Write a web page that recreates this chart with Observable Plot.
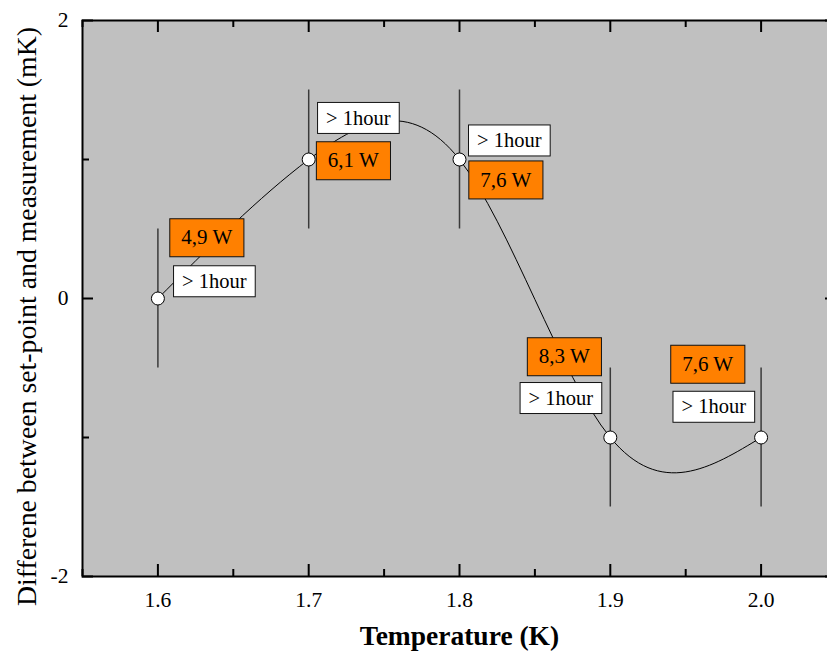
<!DOCTYPE html>
<html>
<head>
<meta charset="utf-8">
<script src="https://cdn.jsdelivr.net/npm/d3@7"></script>
<script src="https://cdn.jsdelivr.net/npm/@observablehq/plot@0.6"></script>
<style>
  html, body { margin: 0; padding: 0; background: white; overflow: hidden; }
</style>
</head>
<body>
<script>
// Measured temperature points, set-point deviation and error half-width
const temperatures = [1.6, 1.7, 1.8, 1.9, 2.0];
const deviations = [0, 1, 1, -1, -1];
const errors = [0.5, 0.5, 0.5, 0.5, 0.5];

// Heater power annotations (text and anchor in data units)
const powerTexts = ["4,9 W", "6,1 W", "7,6 W", "8,3 W", "7,6 W"];
const powerAtT = [1.6324, 1.7296, 1.8307, 1.8695, 1.9646];
const powerAtY = [0.437, 0.991, 0.853, -0.419, -0.473];

// Settling time annotations
const timeTexts = ["> 1hour", "> 1hour", "> 1hour", "> 1hour", "> 1hour"];
const timeAtT = [1.6374, 1.7329, 1.8330, 1.8672, 1.9686];
const timeAtY = [0.124, 1.299, 1.137, -0.716, -0.779];

// Axis ticks
const xMajor = [1.6, 1.7, 1.8, 1.9, 2.0];
const xMinor = [1.55, 1.65, 1.75, 1.85, 1.95, 2.05];
const yMajor = [-2, 0, 2];
const yMinor = [-1, 1];

const xLabel = "Temperature (K)";
const yLabel = "Differene between set-point and measurement (mK)";

const points = temperatures.map((t, i) => ({t, d: deviations[i], e: errors[i]}));
const powerLabels = powerTexts.map((s, i) => ({s, t: powerAtT[i], d: powerAtY[i]}));
const timeLabels = timeTexts.map((s, i) => ({s, t: timeAtT[i], d: timeAtY[i]}));

const W = 850, H = 652;
const mL = 82, mR = 14, mT = 20, mB = 76;
const plotW = W - mL - mR, plotH = H - mT - mB;
const serif = "'Liberation Serif', 'Times New Roman', serif";

const chart = Plot.plot({
  width: W,
  height: H,
  marginLeft: mL,
  marginRight: mR,
  marginTop: mT,
  marginBottom: mB,
  style: {fontFamily: serif, fontSize: "21px", color: "black", background: "white", maxWidth: "none", overflow: "visible"},
  x: {domain: [1.55, 2.05]},
  y: {domain: [-2, 2]},
  marks: [
    Plot.frame({fill: "#c0c0c0", stroke: null}),
    // inward ticks on all four sides
    Plot.tickX(xMajor, {x: d => d, insetTop: plotH - 12, stroke: "black", strokeWidth: 2}),
    Plot.tickX(xMinor, {x: d => d, insetTop: plotH - 7, stroke: "black", strokeWidth: 2}),
    Plot.tickX(xMajor, {x: d => d, insetBottom: plotH - 12, stroke: "black", strokeWidth: 2}),
    Plot.tickX(xMinor, {x: d => d, insetBottom: plotH - 7, stroke: "black", strokeWidth: 2}),
    Plot.tickY(yMajor, {y: d => d, insetRight: plotW - 11, stroke: "black", strokeWidth: 2}),
    Plot.tickY(yMinor, {y: d => d, insetRight: plotW - 7, stroke: "black", strokeWidth: 2}),
    Plot.tickY(yMajor, {y: d => d, insetLeft: plotW - 11, stroke: "black", strokeWidth: 2}),
    Plot.tickY(yMinor, {y: d => d, insetLeft: plotW - 7, stroke: "black", strokeWidth: 2}),
    Plot.frame({stroke: "black", strokeWidth: 2}),
    Plot.axisX(xMajor, {tickSize: 0, tickPadding: 15, tickFormat: d3.format(".1f"), fontSize: 21.5, label: null}),
    Plot.axisY(yMajor, {tickSize: 0, tickPadding: 14, tickFormat: d => String(d), fontSize: 21.5, label: null}),
    // error bars, fitted curve and data points
    Plot.ruleX(points, {x: "t", y1: p => p.d - p.e, y2: p => p.d + p.e, stroke: "#3a3a3a", strokeWidth: 1.5}),
    Plot.line(points, {x: "t", y: "d", curve: "natural", stroke: "black", strokeWidth: 1}),
    Plot.dot(points, {x: "t", y: "d", r: 6.5, fill: "white", stroke: "black", strokeWidth: 1}),
    // annotations (boxed below)
    Plot.text(powerLabels, {x: "t", y: "d", text: "s", fontSize: 21, fill: "black", fontFamily: serif}),
    Plot.text(timeLabels, {x: "t", y: "d", text: "s", fontSize: 20.5, fill: "black", fontFamily: serif}),
    // axis titles
    Plot.text([xLabel], {frameAnchor: "bottom", lineAnchor: "middle", textAnchor: "middle", dy: 60, text: d => d, fontSize: 27.5, fontWeight: "bold"}),
    Plot.text([yLabel], {frameAnchor: "left", textAnchor: "middle", lineAnchor: "middle", rotate: -90, dx: -55, dy: 18, text: d => d, fontSize: 27.8})
  ]
});

document.body.append(chart);

// Put a bordered box behind each annotation text
const ns = "http://www.w3.org/2000/svg";
const textGroups = chart.querySelectorAll('g[aria-label="text"]');
function boxLabels(group, fill, padX, h) {
  group.querySelectorAll("text").forEach(t => {
    const b = t.getBBox();
    const r = document.createElementNS(ns, "rect");
    r.setAttribute("x", b.x - padX);
    r.setAttribute("y", -h / 2);
    r.setAttribute("width", b.width + 2 * padX);
    r.setAttribute("height", h);
    r.setAttribute("fill", fill);
    r.setAttribute("stroke", "#111");
    r.setAttribute("stroke-width", 1);
    const tr = t.getAttribute("transform");
    if (tr) r.setAttribute("transform", tr);
    t.parentNode.insertBefore(r, t);
  });
}
boxLabels(textGroups[0], "#ff8000", 11.5, 38);
boxLabels(textGroups[1], "white", 8.5, 31);
</script>
</body>
</html>
